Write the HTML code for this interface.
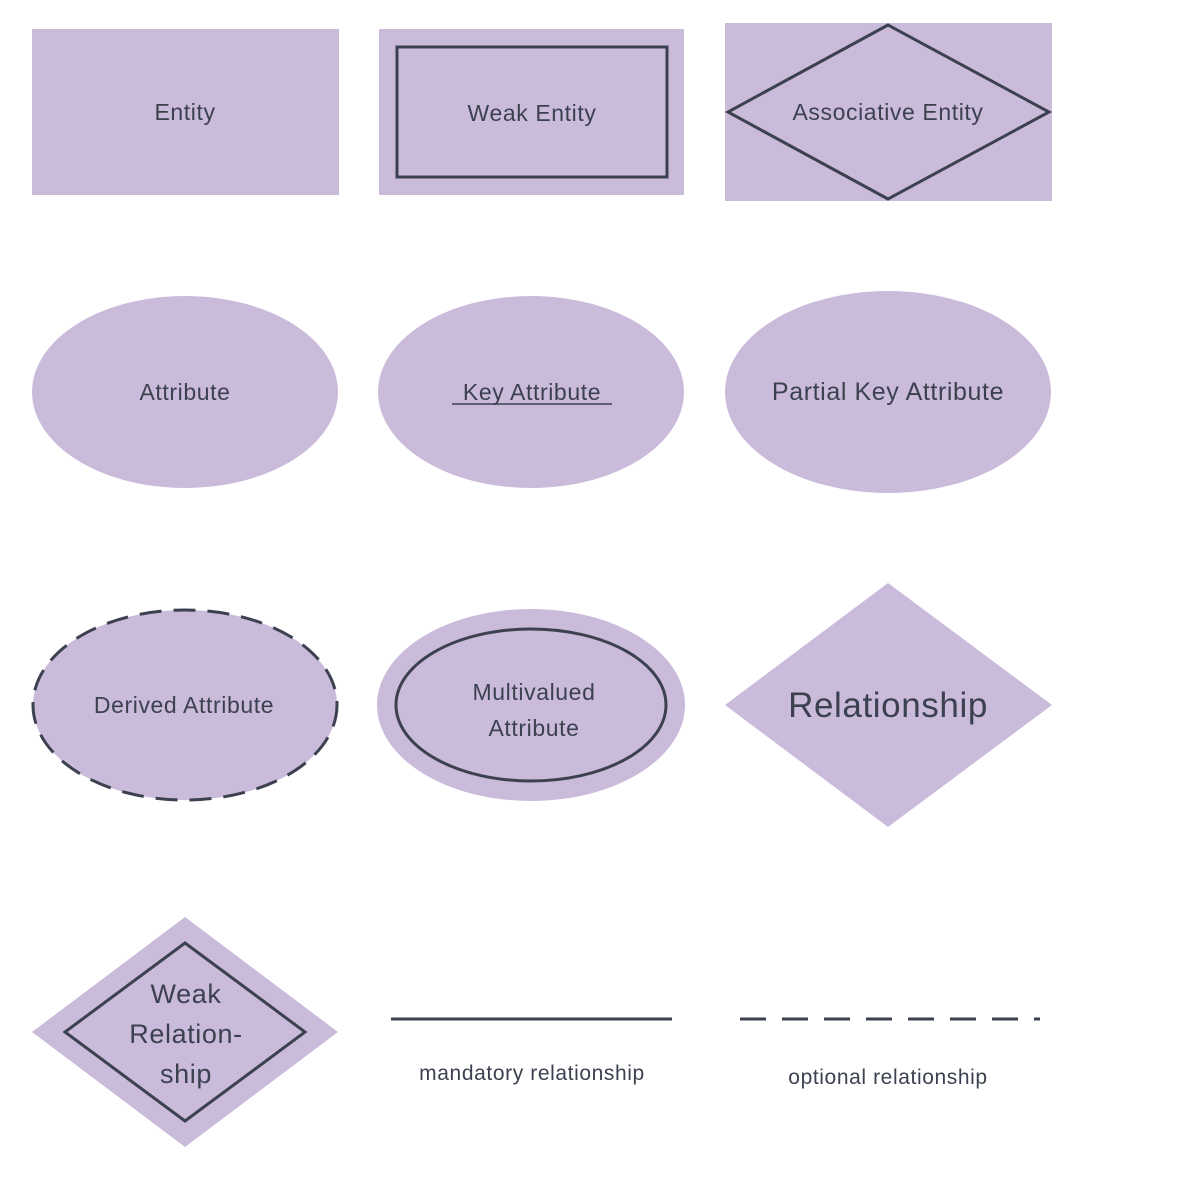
<!DOCTYPE html>
<html><head><meta charset="utf-8"><style>html,body{margin:0;padding:0;background:#fff}svg{display:block}</style></head>
<body>
<svg width="1195" height="1183" viewBox="0 0 1195 1183" xmlns="http://www.w3.org/2000/svg" font-family="'Liberation Sans', sans-serif" fill="#3c4150">
<g fill="#cbbbdb">
<rect x="32" y="29" width="307" height="166"/>
<rect x="379" y="29" width="305" height="166"/>
<rect x="725" y="23" width="327" height="178"/>
<ellipse cx="185" cy="392" rx="153" ry="96"/>
<ellipse cx="531" cy="392" rx="153" ry="96"/>
<ellipse cx="888" cy="392" rx="163" ry="101"/>
<ellipse cx="185" cy="705" rx="152" ry="95"/>
<ellipse cx="531" cy="705" rx="154" ry="96"/>
<polygon points="888,583 1052,705 888,827 725,705"/>
<polygon points="185,917 338,1032 185,1147 32,1032"/>
</g>
<g fill="none" stroke="#3c4150" stroke-width="3">
<rect x="397" y="47" width="270" height="130"/>
<polygon points="888,25 1049,112 888,199 728,112"/>
<ellipse cx="185" cy="705" rx="152" ry="95" stroke-dasharray="22,12"/>
<ellipse cx="531" cy="705" rx="135" ry="76"/>
<polygon points="185,943 305,1032 185,1121 65,1032"/>
<line x1="391" y1="1019" x2="672" y2="1019"/>
<line x1="740" y1="1019" x2="1040" y2="1019" stroke-dasharray="26,16"/>
</g>
<g font-size="23" text-anchor="middle" letter-spacing="0.6">
<text x="185" y="120">Entity</text>
<text x="532" y="121">Weak Entity</text>
<text x="888" y="120">Associative Entity</text>
<text x="185" y="400">Attribute</text>
<text x="532" y="400">Key Attribute</text>
<line x1="452" y1="404" x2="612" y2="404" stroke="#3c4150" stroke-width="1.5"/>
<text x="888" y="400" font-size="25">Partial Key Attribute</text>
<text x="184" y="713">Derived Attribute</text>
<text x="534" y="700">Multivalued</text>
<text x="534" y="736">Attribute</text>
<text x="888" y="717" font-size="35">Relationship</text>
<text x="186" y="1003" font-size="27">Weak</text>
<text x="186" y="1043" font-size="27">Relation-</text>
<text x="186" y="1083" font-size="27">ship</text>
<text x="532" y="1080" font-size="21">mandatory relationship</text>
<text x="888" y="1084" font-size="21">optional relationship</text>
</g>
</svg>
</body></html>
